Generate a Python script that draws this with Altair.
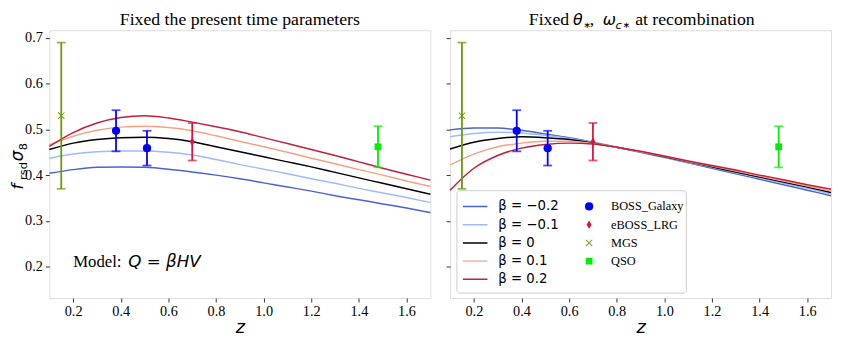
import altair as alt
import pandas as pd

# ---------------- data ----------------
z_grid = [0.1, 0.2, 0.3, 0.4, 0.5, 0.6, 0.7, 0.8, 0.9, 1.0,
          1.1, 1.2, 1.3, 1.4, 1.5, 1.6, 1.7]

betas = ["β = −0.2", "β = −0.1", "β = 0", "β = 0.1", "β = 0.2"]
line_colors = ["#4a63d3", "#9dbcfa", "#000000", "#f5a383", "#c41e3a"]

# Left panel: fixed present-time parameters
left_m02 = [0.404, 0.412, 0.417, 0.418, 0.417, 0.413, 0.407, 0.400, 0.392, 0.383, 0.374, 0.365, 0.355, 0.346, 0.337, 0.328, 0.318]
left_m01 = [0.437, 0.446, 0.451, 0.453, 0.453, 0.450, 0.444, 0.434, 0.423, 0.413, 0.403, 0.392, 0.382, 0.371, 0.361, 0.351, 0.340]
left_0 = [0.456, 0.470, 0.478, 0.482, 0.483, 0.480, 0.473, 0.462, 0.451, 0.440, 0.429, 0.418, 0.406, 0.394, 0.382, 0.370, 0.358]
left_p01 = [0.466, 0.485, 0.498, 0.505, 0.507, 0.504, 0.497, 0.486, 0.474, 0.462, 0.450, 0.437, 0.425, 0.412, 0.400, 0.387, 0.375]
left_p02 = [0.463, 0.493, 0.514, 0.526, 0.530, 0.525, 0.516, 0.506, 0.495, 0.482, 0.469, 0.456, 0.443, 0.429, 0.415, 0.402, 0.389]

# Right panel: fixed theta_*, omega_c* at recombination
right_m02 = [0.499, 0.503, 0.503, 0.498, 0.490, 0.482, 0.472, 0.461, 0.450, 0.439, 0.427, 0.415, 0.403, 0.391, 0.379, 0.367, 0.355]
right_m01 = [0.484, 0.491, 0.494, 0.492, 0.487, 0.480, 0.471, 0.461, 0.450, 0.439, 0.428, 0.417, 0.405, 0.394, 0.382, 0.371, 0.359]
right_0 = [0.457, 0.472, 0.480, 0.484, 0.482, 0.478, 0.470, 0.461, 0.451, 0.440, 0.429, 0.418, 0.407, 0.396, 0.385, 0.374, 0.362]
right_p01 = [0.422, 0.446, 0.462, 0.470, 0.474, 0.474, 0.469, 0.461, 0.451, 0.441, 0.430, 0.420, 0.409, 0.398, 0.387, 0.376, 0.365]
right_p02 = [0.367, 0.415, 0.443, 0.459, 0.467, 0.470, 0.468, 0.461, 0.452, 0.442, 0.431, 0.421, 0.411, 0.400, 0.390, 0.379, 0.369]

# Observations
datasets = ["BOSS_Galaxy", "eBOSS_LRG", "MGS", "QSO"]
point_colors = ["#0000ff", "#dc143c", "#6a9a00", "#00ee00"]
obs_set = ["BOSS_Galaxy", "BOSS_Galaxy", "eBOSS_LRG", "MGS", "QSO"]
obs_z = [0.38, 0.51, 0.70, 0.15, 1.48]
obs_val = [0.497, 0.459, 0.473, 0.530, 0.462]
obs_err = [0.045, 0.038, 0.041, 0.160, 0.045]

x_ticks = [0.2, 0.4, 0.6, 0.8, 1.0, 1.2, 1.4, 1.6]
y_ticks = [0.2, 0.3, 0.4, 0.5, 0.6, 0.7]

# ---------------- tables ----------------
def curves_df(series):
    rows = []
    for b, vals in zip(betas, series):
        for zz, vv in zip(z_grid, vals):
            rows.append({"z": zz, "v": vv, "beta": b})
    return pd.DataFrame(rows)

left_df = curves_df([left_m02, left_m01, left_0, left_p01, left_p02])
right_df = curves_df([right_m02, right_m01, right_0, right_p01, right_p02])

obs_df = pd.DataFrame({
    "z": obs_z, "v": obs_val,
    "lo": [v - e for v, e in zip(obs_val, obs_err)],
    "hi": [v + e for v, e in zip(obs_val, obs_err)],
    "dataset": obs_set,
})

one = pd.DataFrame({"k": [0]})

# ---------------- styling ----------------
W, H = 387, 272
SERIF = "Liberation Serif"
MATH = "DejaVu Sans"

xscale = alt.Scale(domain=[0.1, 1.7], nice=False, zero=False)
yscale = alt.Scale(domain=[0.131, 0.717], nice=False, zero=False)

x_shape = "M-0.85,-0.7L-0.7,-0.85L0,-0.15L0.7,-0.85L0.85,-0.7L0.15,0L0.85,0.7L0.7,0.85L0,0.15L-0.7,0.85L-0.85,0.7L-0.15,0Z"
shapes = ["circle", "M0,-1L0.62,0L0,1L-0.62,0Z", x_shape, "M-0.82,-0.82H0.82V0.82H-0.82Z"]


def panel(curves, show_ylabels, show_legend):
    x_axis = alt.Axis(values=x_ticks, format=".1f", title="z", titleFont=MATH,
                      titleFontStyle="italic", titleFontWeight="normal", titleFontSize=18,
                      titlePadding=0, grid=False, domain=False, tickSize=4,
                      labelPadding=3, labelFont=SERIF, labelFontSize=14.5,
                      labelColor="black", tickColor="#333333")
    y_axis = alt.Axis(values=y_ticks, format=".1f", title=None, labels=show_ylabels,
                      grid=False, domain=False, tickSize=4, labelPadding=3,
                      labelFont=SERIF, labelFontSize=14.5, labelColor="black",
                      tickColor="#333333")

    stroke_legend = alt.Legend(title=None, orient="none", legendX=12, legendY=172,
                               symbolType="stroke", symbolSize=625, clipHeight=14,
                               symbolStrokeWidth=1.5,
                               labelFont=MATH, labelFontSize=13.5, labelOffset=10,
                               rowPadding=4.5, padding=0, direction="vertical",
                               labelColor="black") if show_legend else None
    pt_legend = alt.Legend(title=None, orient="none", legendX=135, legendY=172,
                           symbolSize=70, symbolOpacity=1, clipHeight=14,
                           labelFont=SERIF, labelFontSize=12.5, labelOffset=16,
                           rowPadding=4.5, padding=0, direction="vertical",
                           labelColor="black", symbolStrokeWidth=0) if show_legend else None

    lines = alt.Chart(curves).mark_line(strokeWidth=1.5, interpolate="monotone").encode(
        x=alt.X("z:Q", scale=xscale, axis=x_axis),
        y=alt.Y("v:Q", scale=yscale, axis=y_axis),
        stroke=alt.Stroke("beta:N", scale=alt.Scale(domain=betas, range=line_colors),
                          sort=betas, legend=stroke_legend),
    )

    col = alt.Color("dataset:N", scale=alt.Scale(domain=datasets, range=point_colors),
                    sort=datasets, legend=pt_legend)
    bars = alt.Chart(obs_df).mark_rule(strokeWidth=1.8).encode(
        x="z:Q", y="lo:Q", y2="hi:Q", color=col)
    cap_lo = alt.Chart(obs_df).mark_tick(orient="horizontal", size=9, thickness=1.8).encode(
        x="z:Q", y="lo:Q", color=col)
    cap_hi = alt.Chart(obs_df).mark_tick(orient="horizontal", size=9, thickness=1.8).encode(
        x="z:Q", y="hi:Q", color=col)
    points = alt.Chart(obs_df).mark_point(filled=True, size=70, opacity=1).encode(
        x="z:Q", y="v:Q",
        color=col,
        shape=alt.Shape("dataset:N", scale=alt.Scale(domain=datasets, range=shapes),
                        sort=datasets, legend=pt_legend),
    )
    return [lines, bars, cap_lo, cap_hi, points]


def txt(text, x, y, font, size, style="normal", align="left", angle=0):
    return alt.Chart(one).mark_text(text=text, align=align, baseline="alphabetic",
                                    font=font, fontSize=size, fontStyle=style,
                                    angle=angle, color="black").encode(
        x=alt.value(x), y=alt.value(y))


# ---------------- left panel ----------------
left_layers = panel(left_df, True, False)
left_layers += [
    txt("Fixed the present time parameters", W / 2, -5, SERIF, 18, align="center"),
    # y-axis title f_rsd sigma_8
    txt("f", -27, 162, MATH, 17, "italic", angle=270),
    txt("rsd", -23, 152, MATH, 11.5, angle=270),
    txt("σ", -27, 133, MATH, 17, "italic", angle=270),
    txt("8", -23, 122, MATH, 11.5, angle=270),
    # model annotation at data coords
    alt.Chart(one).mark_text(text="Model:", align="left", baseline="alphabetic",
                             font=SERIF, fontSize=17, color="black").encode(
        x=alt.datum(0.2), y=alt.datum(0.2)),
    alt.Chart(one).mark_text(text="Q = βHV", align="left", baseline="alphabetic",
                             font=MATH, fontSize=17, fontStyle="italic", dx=56,
                             color="black").encode(
        x=alt.datum(0.2), y=alt.datum(0.2)),
]
left = alt.layer(*left_layers).properties(width=W, height=H)

# ---------------- right panel ----------------
right_layers = panel(right_df, False, True)
frame = alt.Chart(one).mark_rect(fill="white", fillOpacity=0.8, stroke="#cccccc",
                                 strokeWidth=1, cornerRadius=3).encode(
    x=alt.value(7), x2=alt.value(240), y=alt.value(163), y2=alt.value(267))
right_layers.insert(1, frame)
right_layers += [
    txt("Fixed", 80, -5, SERIF, 18),
    txt("θ", 125, -5, MATH, 16, "italic"),
    txt("∗", 135.5, -2, MATH, 9),
    txt(",", 142, -5, SERIF, 18),
    txt("ω", 155, -5, MATH, 16, "italic"),
    txt("c", 168, -1, MATH, 11.5, "italic"),
    txt("∗", 175.5, -2, MATH, 9),
    txt("at recombination", 188, -5, SERIF, 18),
]
right = alt.layer(*right_layers).properties(width=W, height=H)

chart = alt.hconcat(left, right, spacing=11).resolve_scale(
    color="independent", stroke="independent", shape="independent"
).resolve_legend(
    color="independent", stroke="independent", shape="independent"
).properties(padding=0).configure_view(
    stroke="#3a3a3a", strokeWidth=1
).configure(background="white")

chart.save("out.html", embed_options={"renderer": "svg", "actions": False})
